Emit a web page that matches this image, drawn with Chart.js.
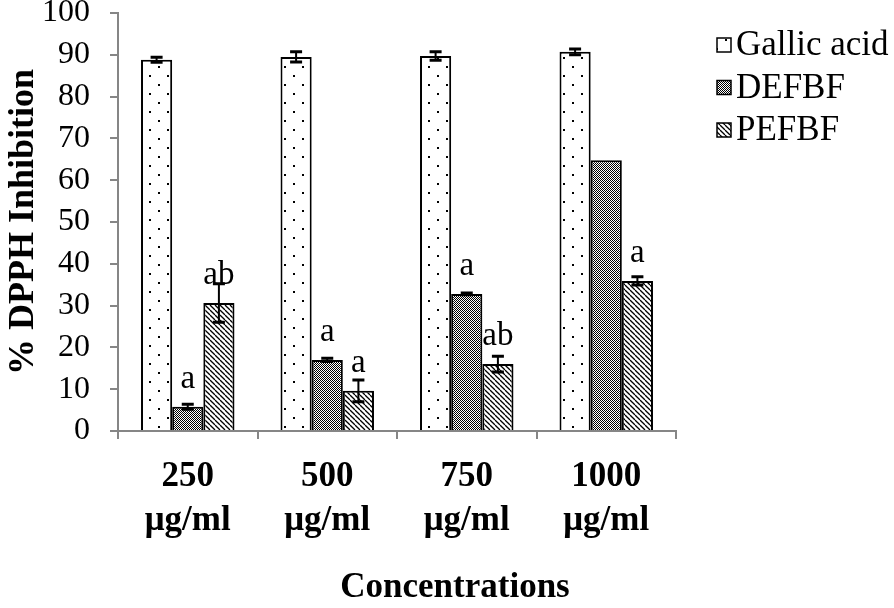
<!DOCTYPE html>
<html>
<head>
<meta charset="utf-8">
<script src="https://cdn.jsdelivr.net/npm/chart.js@4"></script>
<style>
  html, body { margin: 0; background: #fff; }
</style>
</head>
<body>
<canvas id="chart" width="894" height="608"></canvas>
<script>
'use strict';

// Data
var categories = [['250', 'μg/ml'], ['500', 'μg/ml'], ['750', 'μg/ml'], ['1000', 'μg/ml']];
var seriesNames = ['Gallic acid', 'DEFBF', 'PEFBF'];
var gallicAcid = [88.8, 89.5, 89.7, 90.7];
var gallicErr = [0.6, 1.2, 1.0, 0.7];
var defbf = [5.8, 17.0, 32.8, 64.8];
var defbfErr = [0.6, 0.4, 0.2, 0];
var pefbf = [30.6, 9.6, 16.0, 35.9];
var pefbfErr = [4.6, 2.6, 1.9, 1.0];
var gallicLetters = ['', '', '', ''];
var defbfLetters = ['a', 'a', 'a', ''];
var pefbfLetters = ['ab', 'a', 'ab', 'a'];
var yMin = 0, yMax = 100, yStep = 10;

var SERIF = '"Liberation Serif", "Times New Roman", serif';
var AXIS_GREY = '#868686';

// Fill patterns, as in the original figure
function makeTile(w, h, draw) {
  var c = document.createElement('canvas');
  c.width = w;
  c.height = h;
  var g = c.getContext('2d');
  g.fillStyle = '#fff';
  g.fillRect(0, 0, w, h);
  draw(g, w, h);
  return document.getElementById('chart').getContext('2d').createPattern(c, 'repeat');
}

var dotted = makeTile(18, 18, function(g) {
  g.fillStyle = '#000';
  g.fillRect(5, 3, 2, 2);
  g.fillRect(14, 12, 2, 2);
});

var checker = makeTile(2, 2, function(g) {
  g.fillStyle = '#000';
  g.fillRect(0, 0, 1, 1);
  g.fillRect(1, 1, 1, 1);
});

var hatched = makeTile(5, 5, function(g, s) {
  g.strokeStyle = '#000';
  g.lineWidth = 1.3;
  for (var k = -1; k <= 1; k++) {
    g.beginPath();
    g.moveTo(k * s, 0);
    g.lineTo(k * s + s, s);
    g.stroke();
  }
});

var fills = [dotted, checker, hatched];
var values = [gallicAcid, defbf, pefbf];
var errors = [gallicErr, defbfErr, pefbfErr];
var letters = [gallicLetters, defbfLetters, pefbfLetters];

var datasets = seriesNames.map(function(name, i) {
  return {
    label: name,
    data: values[i],
    errors: errors[i],
    letters: letters[i],
    backgroundColor: fills[i],
    borderColor: '#000',
    borderWidth: 2,
    categoryPercentage: 0.67,
    barPercentage: 1
  };
});

// Error bars and significance letters, placed through the scales
var errorBars = {
  id: 'errorBars',
  afterDatasetsDraw: function(chart) {
    var ctx = chart.ctx;
    var y = chart.scales.y;
    ctx.save();
    chart.data.datasets.forEach(function(ds, di) {
      var meta = chart.getDatasetMeta(di);
      meta.data.forEach(function(bar, i) {
        var v = ds.data[i];
        var e = ds.errors[i];
        if (e > 0) {
          var top = y.getPixelForValue(v + e);
          var bottom = y.getPixelForValue(v - e);
          ctx.strokeStyle = '#000';
          ctx.lineWidth = 2;
          ctx.beginPath();
          ctx.moveTo(bar.x, top);
          ctx.lineTo(bar.x, bottom);
          ctx.stroke();
          ctx.lineWidth = 3;
          ctx.beginPath();
          ctx.moveTo(bar.x - 6, top);
          ctx.lineTo(bar.x + 6, top);
          ctx.moveTo(bar.x - 6, bottom);
          ctx.lineTo(bar.x + 6, bottom);
          ctx.stroke();
        }
        if (ds.letters[i]) {
          ctx.fillStyle = '#000';
          ctx.font = '33px ' + SERIF;
          ctx.textAlign = 'center';
          ctx.textBaseline = 'alphabetic';
          ctx.fillText(ds.letters[i], bar.x, y.getPixelForValue(v) - 19);
        }
      });
    });
    ctx.restore();
  }
};

// Legend on the right and the x axis title
var extras = {
  id: 'extras',
  afterDraw: function(chart) {
    var ctx = chart.ctx;
    ctx.save();
    chart.data.datasets.forEach(function(ds, i) {
      var cy = 45 + i * 42.5;
      ctx.fillStyle = ds.backgroundColor;
      ctx.fillRect(717, cy - 7, 14, 14);
      ctx.strokeStyle = '#000';
      ctx.lineWidth = 1.5;
      ctx.strokeRect(717, cy - 7, 14, 14);
      ctx.fillStyle = '#000';
      ctx.font = '35px ' + SERIF;
      ctx.textAlign = 'left';
      ctx.textBaseline = 'middle';
      ctx.fillText(ds.label, 736, cy + 1);
    });
    ctx.font = 'bold 35px ' + SERIF;
    ctx.textAlign = 'center';
    ctx.textBaseline = 'alphabetic';
    ctx.fillText('Concentrations', 455, 597);
    ctx.restore();
  }
};

new Chart(document.getElementById('chart'), {
  type: 'bar',
  data: { labels: categories, datasets: datasets },
  plugins: [errorBars, extras],
  options: {
    responsive: false,
    animation: false,
    devicePixelRatio: 1,
    layout: { padding: { top: 13, right: 218, bottom: 0, left: 0 } },
    plugins: {
      legend: { display: false },
      tooltip: { enabled: false }
    },
    scales: {
      x: {
        grid: {
          offset: true,
          drawOnChartArea: false,
          tickLength: 8,
          color: AXIS_GREY,
          lineWidth: 2
        },
        border: { color: AXIS_GREY, width: 2 },
        ticks: {
          color: '#000',
          padding: 16,
          maxRotation: 0,
          font: { family: SERIF, size: 35, weight: 'bold', lineHeight: 1.25 }
        },
        afterFit: function(axis) { axis.height = 177; }
      },
      y: {
        min: yMin,
        max: yMax,
        ticks: {
          stepSize: yStep,
          autoSkip: false,
          color: '#000',
          padding: 20,
          font: { family: SERIF, size: 32 }
        },
        grid: {
          drawOnChartArea: false,
          tickLength: 8,
          color: AXIS_GREY,
          lineWidth: 2
        },
        border: { color: AXIS_GREY, width: 2 },
        title: {
          display: true,
          text: '% DPPH Inhibition',
          color: '#000',
          padding: { top: 2, bottom: 0 },
          font: { family: SERIF, size: 36, weight: 'bold', lineHeight: 1.2 }
        },
        afterFit: function(axis) {
          // fixed axis width; the "100" label may run into the top margin
          axis.width = 118;
          axis.paddingTop = 0;
          axis.paddingBottom = 0;
        }
      }
    }
  }
});
</script>
</body>
</html>
